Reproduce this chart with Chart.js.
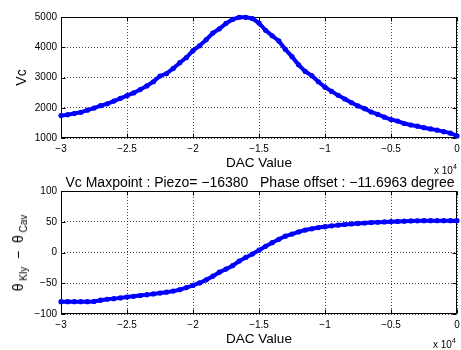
<!DOCTYPE html>
<html><head><meta charset="utf-8">
<script src="https://cdn.jsdelivr.net/npm/chart.js@4.4.1/dist/chart.umd.min.js"></script>
<style>
html,body{margin:0;padding:0;background:#fff;}
body{width:461px;height:350px;position:relative;overflow:hidden;font-family:"Liberation Sans",Arial,sans-serif;color:#000;}
canvas{position:absolute;left:0;}
#c1{top:0;width:461px;height:178px;}
#c2{top:178px;width:461px;height:172px;}
.t{position:absolute;white-space:pre;color:#000;line-height:1;}
sub{font-size:10px;vertical-align:-4px;}
sup{font-size:7px;vertical-align:5px;}
</style></head><body>
<canvas id="c1" width="461" height="178"></canvas>
<canvas id="c2" width="461" height="172"></canvas>
<div class="t" style="left:61px;width:398px;text-align:center;top:175px;font-size:14px;">Vc Maxpoint : Piezo= −16380   Phase offset : −11.6963 degree</div>
<div class="t" style="left:434px;top:163px;font-size:10px;">x 10<sup>4</sup></div>
<div class="t" style="left:433px;top:337px;font-size:10px;">x 10<sup>4</sup></div>
<div class="t" style="left:20px;top:253px;font-size:14px;transform:translate(-50%,-50%) rotate(-90deg);">θ<sub> Kly</sub>  −  θ<sub> Cav</sub></div>
<script>
const dacValues = [-30000,-29500,-29000,-28500,-28000,-27500,-27000,-26500,-26000,-25500,
  -25000,-24500,-24000,-23500,-23000,-22500,-22000,-21500,-21000,-20500,
  -20000,-19500,-19000,-18500,-18000,-17500,-17000,-16500,-16000,-15500,
  -15000,-14500,-14000,-13500,-13000,-12500,-12000,-11500,-11000,-10500,
  -10000,-9500,-9000,-8500,-8000,-7500,-7000,-6500,-6000,-5500,
  -5000,-4500,-4000,-3500,-3000,-2500,-2000,-1500,-1000,-500,0];
const vcValues = [1740,1770,1810,1850,1920,1990,2070,2130,2220,2310,
  2400,2490,2600,2720,2860,3050,3130,3300,3490,3660,
  3890,4050,4250,4470,4610,4790,4920,4990,4990,4950,
  4800,4560,4380,4210,3930,3690,3420,3200,3060,2860,
  2680,2540,2410,2290,2170,2060,1970,1860,1780,1690,
  1610,1560,1480,1430,1390,1340,1300,1260,1210,1160,1070];
const phaseValues = [-80,-80,-80,-80,-80,-79.5,-77.5,-76,-75,-73.8,
  -72.5,-71.3,-70,-68.5,-67.3,-66,-64.5,-62.8,-60.5,-57,
  -53.5,-49.5,-44.5,-38.5,-32,-27,-21.5,-14,-8,-2.5,
  3.8,10,16,21.5,26.5,30,33.5,36.5,38.5,40.5,
  42,43.3,44.5,45.5,46.5,47.3,48,48.6,49.2,49.7,
  50.1,50.6,51,51.3,51.5,51.7,51.8,51.8,51.8,51.8,51.8];
const vcTicks = [1000,2000,3000,4000,5000];
const phaseTicks = [-100,-50,0,50,100];
const xTicks = [-30000,-25000,-20000,-15000,-10000,-5000,0];

const fmt = v => String(v).replace('-', '−');
const boxPlugin = {
  id: 'box',
  beforeDatasetsDraw(chart) {
    const {ctx, chartArea: a, scales} = chart;
    const L = Math.round(a.left) + 0.5, R = Math.round(a.right) - 0.5;
    const T = Math.round(a.top) + 0.5, B = Math.round(a.bottom) - 0.5;
    ctx.save();
    ctx.strokeStyle = '#000'; ctx.lineWidth = 1; ctx.setLineDash([]);
    ctx.strokeRect(L, T, R - L, B - T);
    ctx.beginPath();
    scales.x.ticks.forEach(t => {
      const p = Math.round(scales.x.getPixelForValue(t.value)) + 0.5;
      ctx.moveTo(p, B); ctx.lineTo(p, B - 4);
      ctx.moveTo(p, T); ctx.lineTo(p, T + 4);
    });
    scales.y.ticks.forEach(t => {
      const p = Math.round(scales.y.getPixelForValue(t.value)) + 0.5;
      ctx.moveTo(L, p); ctx.lineTo(L + 4, p);
      ctx.moveTo(R, p); ctx.lineTo(R - 4, p);
    });
    ctx.stroke();
    ctx.restore();
  }
};

function makeChart(id, values, yMin, yMax, yTickList, yTitle, padTop, xHeight, xTitlePad) {
  return new Chart(document.getElementById(id), {
    type: 'line',
    data: { datasets: [{
      data: dacValues.map((d, i) => ({x: d, y: values[i]})),
      borderColor: '#0000ff', backgroundColor: '#0000ff',
      borderWidth: 4, pointRadius: 2.6, pointBorderWidth: 0,
      pointBackgroundColor: '#0000ff', tension: 0, clip: false
    }]},
    options: {
      responsive: false, animation: false,
      layout: { padding: { top: padTop, right: 0, left: 0, bottom: 0 } },
      plugins: { legend: { display: false }, tooltip: { enabled: false } },
      scales: {
        x: {
          type: 'linear', min: -30000, max: 0,
          afterBuildTicks: s => { s.ticks = xTicks.map(v => ({value: v})); },
          ticks: { callback: v => fmt(v / 10000), font: { size: 10, family: 'Liberation Sans' }, color: '#000', padding: 5, maxRotation: 0, autoSkip: false },
          grid: { color: '#444', drawTicks: false, lineWidth: 1 },
          border: { display: false, dash: [1, 2] },
          title: { display: true, text: 'DAC Value', color: '#000', font: { size: 13.5, family: 'Liberation Sans' }, padding: { top: 0, bottom: xTitlePad } },
          afterFit: s => { s.height = xHeight; s.paddingLeft = 0; s.paddingRight = 0; }
        },
        y: {
          min: yMin, max: yMax,
          afterBuildTicks: s => { s.ticks = yTickList.map(v => ({value: v})); },
          ticks: { callback: v => fmt(v), font: { size: 10, family: 'Liberation Sans' }, color: '#000', padding: 4, autoSkip: false },
          grid: { color: '#444', drawTicks: false, lineWidth: 1 },
          border: { display: false, dash: [1, 2] },
          title: { display: !!yTitle, text: yTitle || '', color: '#000', font: { size: 14, family: 'Liberation Sans' }, padding: { top: 14, bottom: 0 } },
          afterFit: s => { s.width = 61; s.paddingTop = 0; s.paddingBottom = 0; }
        }
      }
    },
    plugins: [boxPlugin]
  });
}
makeChart('c1', vcValues, 1000, 5000, vcTicks, 'Vc', 17, 40, 7);
makeChart('c2', phaseValues, -100, 100, phaseTicks, null, 13, 36, 2.6);
</script>
</body></html>
